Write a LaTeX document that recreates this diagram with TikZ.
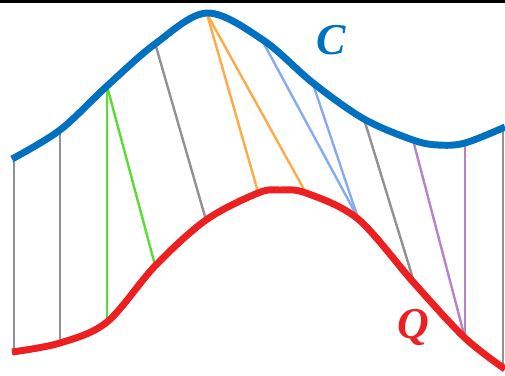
\documentclass[tikz,border=0pt]{standalone}
\usepackage{fontspec}
\setmainfont{Liberation Serif}
\definecolor{cblue}{RGB}{0,112,192}
\definecolor{cred}{RGB}{236,32,32}
\definecolor{cgray}{RGB}{145,145,145}
\definecolor{cgreen}{RGB}{90,220,50}
\definecolor{corange}{RGB}{255,170,70}
\definecolor{clblue}{RGB}{135,170,240}
\definecolor{cpurple}{RGB}{185,130,200}
\tikzset{
  curve/.style={line width=5.2pt, line cap=butt, line join=round},
  link/.style={line width=1.8pt},
  lbl/.style={font=\fontsize{33}{33}\selectfont\bfseries\itshape, inner sep=0pt}
}
\begin{document}
\begin{tikzpicture}[x=0.75pt,y=-0.75pt]
\useasboundingbox (0,0) rectangle (505,375);
\fill (0,0) rectangle (505,3.2);
% points on C
\coordinate (c1) at (14,158);
\coordinate (c2) at (60,131);
\coordinate (c3) at (107,86);
\coordinate (c4) at (155,43);
\coordinate (c5) at (207,14);
\coordinate (c6) at (263,42);
\coordinate (c7) at (313,84);
\coordinate (c8) at (364,119);
\coordinate (c9) at (413,140);
\coordinate (c10) at (465,143);
\coordinate (c11) at (503,128);
% points on Q
\coordinate (q1) at (14,351);
\coordinate (q2) at (60,342);
\coordinate (q3) at (107,321);
\coordinate (q4) at (155,265);
\coordinate (q5) at (206,220);
\coordinate (q6) at (258,192);
\coordinate (q7) at (306,193);
\coordinate (q8) at (358,218);
\coordinate (q9) at (414,282);
\coordinate (q10) at (465,338);
\coordinate (q11) at (503,368);
% connectors
\draw[link,cgray] (c1) -- (q1);
\draw[link,cgray] (c2) -- (q2);
\draw[link,cgreen] (c3) -- (q3);
\draw[link,cgreen] (c3) -- (q4);
\draw[link,cgray] (c4) -- (q5);
\draw[link,corange] (c5) -- (q6);
\draw[link,corange] (c5) -- (q7);
\draw[link,clblue] (c6) -- (q8);
\draw[link,clblue] (c7) -- (q8);
\draw[link,cgray] (c8) -- (q9);
\draw[link,cpurple] (c9) -- (q10);
\draw[link,cpurple] (c10) -- (q10);
\draw[link,cgray] (c11) -- (q11);
% curves
\draw[curve,cblue] plot[smooth,tension=0.55] coordinates {(12,159) (60,130) (107,86) (155,44) (207,13) (263,40) (313,83) (364,119) (413,140) (438,145) (465,143) (505,127)};
\draw[curve,cred] plot[smooth,tension=0.55] coordinates {(12,352) (60,343) (107,322) (155,266) (206,220) (258,193) (280,190) (306,193) (358,219) (414,283) (465,338) (505,369)};
\node[lbl,cblue] (C) at (331,40) {C};
\node[lbl,cred] (Q) at (413,327) {Q};
\end{tikzpicture}
\end{document}
